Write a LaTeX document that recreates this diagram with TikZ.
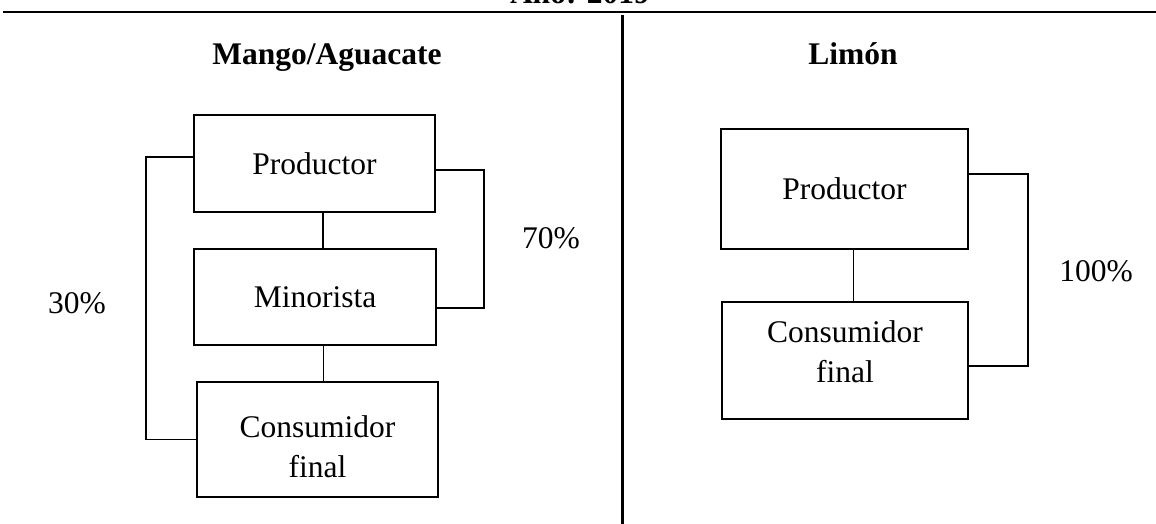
\documentclass[tikz,border=0pt]{standalone}
\usepackage{fontspec}
\setmainfont{Liberation Serif}
\begin{document}
\begin{tikzpicture}[x=1pt,y=-1pt,
  every node/.style={font=\fontsize{31.5}{39.5}\selectfont},
  boxnode/.style={draw,line width=2.2pt,rectangle,inner sep=0pt,align=center},
  txt/.style={inner sep=0pt,align=center},
  link/.style={line width=1.3pt},
  rule/.style={line width=2pt},
  head/.style={font=\fontsize{31.5}{39.5}\selectfont\bfseries,anchor=base},
  pct/.style={anchor=base}]
\useasboundingbox (0,0) rectangle (1156,524);
\clip (0,0) rectangle (1156,524);
\fill[white] (0,0) rectangle (1156,524);
% top title (cut off) and rules
\node[head] (title) at (580,4) {Año: 2019};
\coordinate (ruleL) at (3,12);
\coordinate (ruleR) at (1156,12);
\draw[rule] (ruleL) -- (ruleR);
\coordinate (divT) at (622,15);
\coordinate (divB) at (622,524);
\draw[line width=3pt] (divT) -- (divB);
% headings
\node[head] (h1) at (327,65) {Mango/Aguacate};
\node[head] (h2) at (853,65) {Limón};
% left boxes
\node[boxnode,minimum width=241pt,minimum height=97pt] (lp) at (314.5,163.5) {Productor};
\node[boxnode,minimum width=242pt,minimum height=96pt] (lm) at (315,297) {Minorista};
\node[boxnode,minimum width=241pt,minimum height=115pt] (lc) at (317.5,439.5) {};
\node[txt] (lct) at ([yshift=-7.4pt]lc.center) {Consumidor\\final};
% right boxes
\node[boxnode,minimum width=247pt,minimum height=120pt] (rp) at (844.5,189) {Productor};
\node[boxnode,minimum width=246pt,minimum height=117pt] (rc) at (845,360.5) {};
\node[txt] (rct) at ([yshift=8.6pt]rc.center) {Consumidor\\final};
% left connectors
\draw[link] ([xshift=8.5pt]lp.south) -- ([xshift=8.5pt]lp.south |- lm.north);
\draw[link] ([xshift=8.5pt]lm.south) -- ([xshift=8.5pt]lm.south |- lc.north);
\draw[link] ([yshift=6.5pt]lp.west) -- ++(-47,0) |- (lc.west);
\draw[link] ([yshift=-6.5pt]lp.east) -- ++(48,0) |- ([yshift=-11pt]lm.east);
% right connectors
\draw[link] ([xshift=9pt]rp.south) -- ([xshift=9pt]rp.south |- rc.north);
\draw[link] ([yshift=15pt]rp.east) -- ++(59,0) |- ([yshift=-5.5pt]rc.east);
% percentages
\node[pct] (p30) at (77,313) {30\%};
\node[pct] (p70) at (551,248) {70\%};
\node[pct] (p100) at (1096,281.5) {100\%};
\end{tikzpicture}
\end{document}
